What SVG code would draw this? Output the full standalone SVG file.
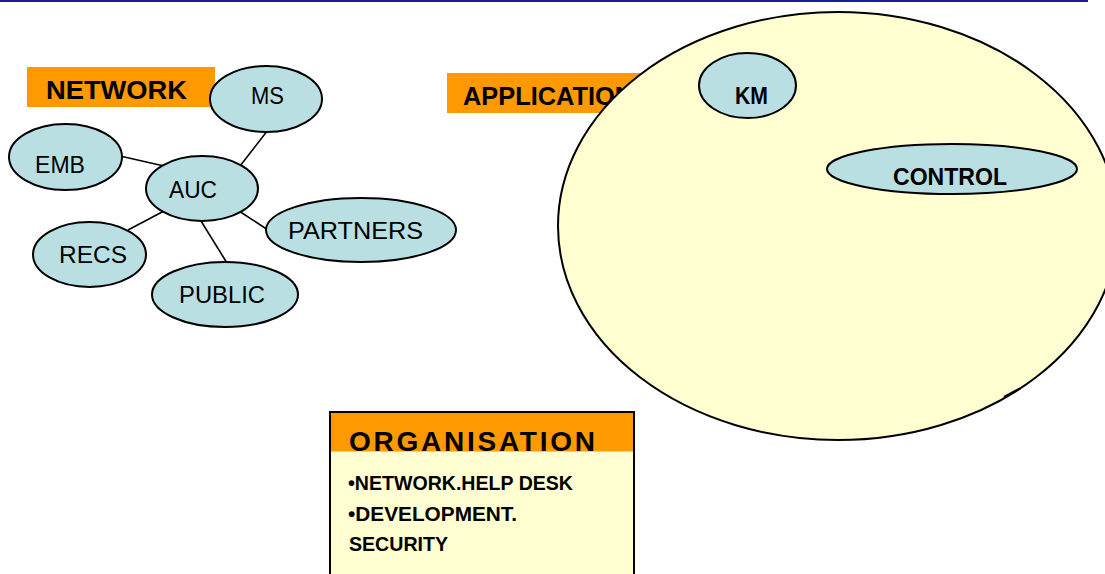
<svg xmlns="http://www.w3.org/2000/svg" width="1105" height="574" viewBox="0 0 1105 574">
<style>
  .node ellipse { fill: #B9DFE3; stroke: #000; stroke-width: 2; }
  .lbl { font-family: "Liberation Sans", Arial, sans-serif; font-size: 23px; fill: #000; }
  .bold { font-family: "Liberation Sans", Arial, sans-serif; font-weight: bold; fill: #000; }
  .hdr { fill: #FF9900; }
  .conn line { stroke: #000; stroke-width: 1.6; }
</style>
<rect width="1105" height="574" fill="#fff"/>
<line x1="0" y1="1" x2="1088" y2="1" stroke="#1a1a99" stroke-width="2"/>

<g id="network-label">
  <rect class="hdr" x="27" y="67" width="188" height="40"/>
  <text class="bold" x="46" y="99" font-size="26.5" textLength="141" lengthAdjust="spacingAndGlyphs">NETWORK</text>
</g>

<g id="connectors" class="conn">
  <line x1="268" y1="130" x2="240" y2="166"/>
  <line x1="120" y1="156" x2="164" y2="166"/>
  <line x1="128" y1="230" x2="164" y2="211"/>
  <line x1="201" y1="221" x2="227" y2="263"/>
  <line x1="239" y1="211" x2="268" y2="230"/>
</g>

<g id="node-ms" class="node">
  <ellipse cx="266" cy="99" rx="56" ry="33"/>
  <text class="lbl" x="251" y="104" textLength="33" lengthAdjust="spacingAndGlyphs">MS</text>
</g>
<g id="node-emb" class="node">
  <ellipse cx="65.5" cy="157" rx="56.5" ry="33"/>
  <text class="lbl" x="35" y="173" textLength="50" lengthAdjust="spacingAndGlyphs">EMB</text>
</g>
<g id="node-auc" class="node">
  <ellipse cx="202" cy="188.5" rx="56" ry="32.5"/>
  <text class="lbl" x="169" y="198" textLength="48" lengthAdjust="spacingAndGlyphs">AUC</text>
</g>
<g id="node-partners" class="node">
  <ellipse cx="361" cy="230" rx="95" ry="32"/>
  <text class="lbl" x="288" y="239" textLength="135" lengthAdjust="spacingAndGlyphs">PARTNERS</text>
</g>
<g id="node-recs" class="node">
  <ellipse cx="89.5" cy="254.5" rx="56.5" ry="32.5"/>
  <text class="lbl" x="59" y="263" textLength="68" lengthAdjust="spacingAndGlyphs">RECS</text>
</g>
<g id="node-public" class="node">
  <ellipse cx="225" cy="294.5" rx="73" ry="32.5"/>
  <text class="lbl" x="179" y="303" textLength="86" lengthAdjust="spacingAndGlyphs">PUBLIC</text>
</g>

<g id="application-label">
  <rect class="hdr" x="447" y="73" width="200" height="40"/>
  <text class="bold" x="463" y="105" font-size="26.5" textLength="170" lengthAdjust="spacingAndGlyphs">APPLICATION</text>
</g>

<g id="application-area">
  <ellipse cx="838" cy="226" rx="280" ry="214" fill="#FFFFD1" stroke="#000" stroke-width="2"/>
  <path d="M1004 397 L1020 388.5" stroke="#000" stroke-width="2.2" fill="none"/>
</g>

<g id="node-km" class="node">
  <ellipse cx="747.5" cy="85.5" rx="48.5" ry="32.5"/>
  <text class="bold" x="735" y="104" font-size="23" textLength="33" lengthAdjust="spacingAndGlyphs">KM</text>
</g>
<g id="node-control" class="node">
  <ellipse cx="952" cy="169" rx="125" ry="25"/>
  <text class="bold" x="893" y="185" font-size="23.5" textLength="114" lengthAdjust="spacingAndGlyphs">CONTROL</text>
</g>

<g id="organisation">
  <rect x="330" y="412" width="304" height="170" fill="#FFFFD1" stroke="#000" stroke-width="2"/>
  <rect class="hdr" x="331" y="413" width="302" height="39"/>
  <text class="bold" x="349" y="451" font-size="28" textLength="246" lengthAdjust="spacing">ORGANISATION</text>
  <rect x="331" y="451.5" width="302" height="8" fill="#FFFFD1"/>
  <text class="bold" x="348" y="490" font-size="19.5" textLength="225" lengthAdjust="spacingAndGlyphs">•NETWORK.HELP DESK</text>
  <text class="bold" x="348" y="521" font-size="19.5" textLength="169" lengthAdjust="spacingAndGlyphs">•DEVELOPMENT.</text>
  <text class="bold" x="349" y="551" font-size="19.5" textLength="99" lengthAdjust="spacingAndGlyphs">SECURITY</text>
</g>
</svg>
